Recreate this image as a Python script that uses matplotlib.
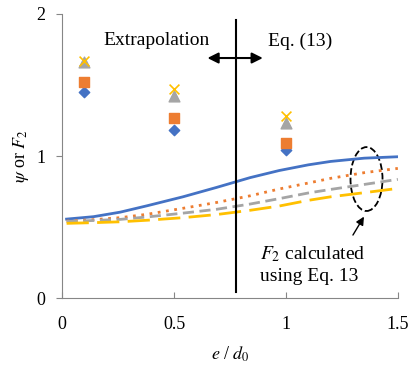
import matplotlib
matplotlib.use("Agg")
import matplotlib.pyplot as plt
from matplotlib.patches import Ellipse

plt.rcParams['font.family'] = ['Liberation Serif', 'DejaVu Serif']
plt.rcParams['mathtext.fontset'] = 'stix'

# measured points
pt_x = [0.1, 0.5, 1.0]
diamond_y = [1.45, 1.18, 1.04]
square_y = [1.52, 1.27, 1.09]
triangle_y = [1.66, 1.42, 1.23]
cross_y = [1.67, 1.47, 1.28]

# F2 curves (Eq. 13)
line_x = [0.02, 0.14, 0.26, 0.38, 0.54, 0.69, 0.84, 0.97, 1.1, 1.2, 1.35, 1.5]
blue_y = [0.556, 0.573, 0.605, 0.65, 0.713, 0.779, 0.848, 0.898, 0.938, 0.962, 0.985, 0.995]
orange_y = [0.542, 0.552, 0.566, 0.59, 0.632, 0.673, 0.72, 0.768, 0.81, 0.843, 0.883, 0.913]
gray_y = [0.54, 0.546, 0.554, 0.571, 0.598, 0.625, 0.662, 0.7, 0.74, 0.765, 0.8, 0.836]
yellow_y = [0.526, 0.531, 0.537, 0.548, 0.566, 0.588, 0.618, 0.648, 0.688, 0.713, 0.742, 0.772]

x_ticks = [0, 0.5, 1, 1.5]
x_labels = ['0', '0.5', '1', '1.5']
y_ticks = [0, 1, 2]

fig = plt.figure(figsize=(4.14, 3.68), dpi=100)
ax = fig.add_axes([0.150, 0.190, 0.811, 0.772])

ax.plot(line_x, blue_y, color='#4472C4', lw=2)
ax.plot(line_x, orange_y, color='#ED7D31', lw=2, ls=(0, (1, 2)))
ax.plot(line_x, gray_y, color='#A5A5A5', lw=2, ls=(0, (4, 2)))
ax.plot(line_x, yellow_y, color='#FFC000', lw=2, ls=(0, (8, 3)))

ax.scatter(pt_x, diamond_y, marker='D', s=28, color='#4472C4', zorder=3)
ax.scatter(pt_x, square_y, marker='s', s=55, color='#ED7D31', zorder=3)
ax.scatter(pt_x, triangle_y, marker='^', s=60, color='#A5A5A5', zorder=3)
ax.scatter(pt_x, cross_y, marker='x', s=50, color='#FFC000', lw=1.2, zorder=4)

ax.plot([0.777, 0.777], [0.04, 1.96], color='black', lw=1.5)
ax.annotate('', xy=(0.637, 1.69), xytext=(0.909, 1.69),
            arrowprops=dict(arrowstyle='<|-|>', color='black', lw=1.5, mutation_scale=16))
ax.text(0.423, 1.81, 'Extrapolation', ha='center', va='center', fontsize=14)
ax.text(1.063, 1.81, 'Eq. (13)', ha='center', va='center', fontsize=14)

ax.add_patch(Ellipse((1.36, 0.838), 0.143, 0.45, fill=False, ls='--', lw=1.3, color='black'))
ax.annotate('', xy=(1.355, 0.59), xytext=(1.293, 0.427),
            arrowprops=dict(arrowstyle='-|>', color='black', lw=1, mutation_scale=12))
ax.text(0.884, 0.31, '$F_2$ calculated', ha='left', va='center', fontsize=14)
ax.text(0.884, 0.15, 'using Eq. 13', ha='left', va='center', fontsize=14)

ax.set_xlim(0, 1.5)
ax.set_ylim(0, 2)
ax.set_xticks(x_ticks)
ax.set_xticklabels(x_labels)
ax.set_yticks(y_ticks)
ax.tick_params(labelsize=13, color='#868686', length=4)
ax.tick_params(axis='x', direction='in', pad=13)
ax.tick_params(axis='y', direction='out', pad=8)
for s in ['top', 'right']:
    ax.spines[s].set_visible(False)
for s in ['left', 'bottom']:
    ax.spines[s].set_color('#868686')

ax.set_xlabel('$e$ / $d_0$', fontsize=13, labelpad=8)
ax.set_ylabel('$\\psi$ or $F_2$', fontsize=13)

fig.savefig('out.png', dpi=100)
